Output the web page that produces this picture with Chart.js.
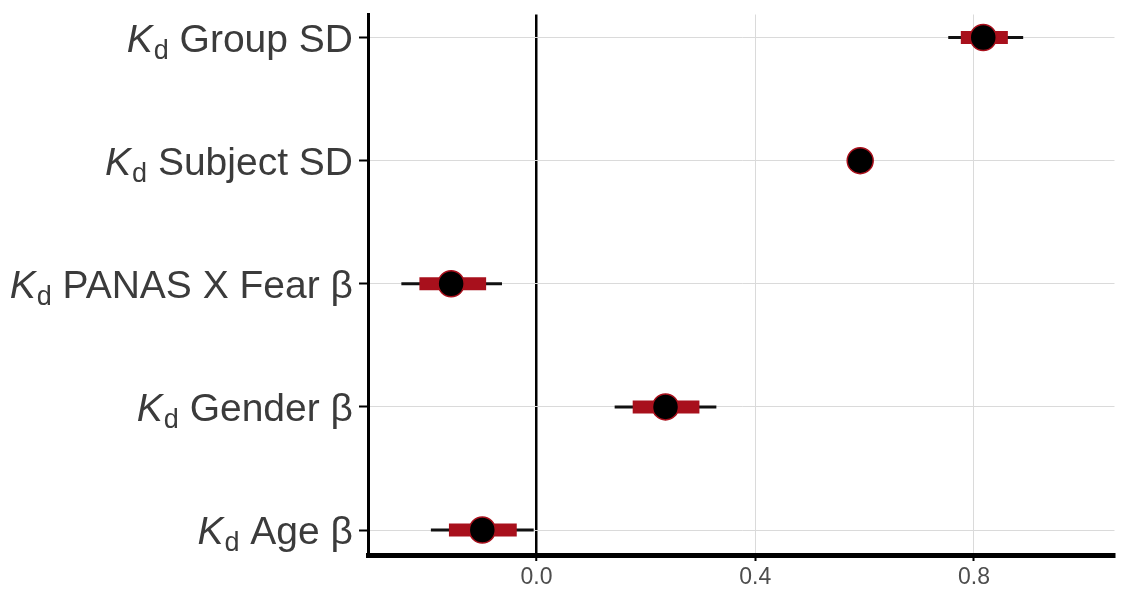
<!DOCTYPE html>
<html>
<head>
<meta charset="utf-8">
<script src="https://cdn.jsdelivr.net/npm/chart.js@4.4.1/dist/chart.umd.min.js"></script>
<style>
  body { margin: 0; background: #fff; }
  #wrap { width: 1129px; height: 594px; }
</style>
</head>
<body>
<div id="wrap"><canvas id="forestChart"></canvas></div>
<script>
// rows, top to bottom of the plot
const labelRest = [" Group SD", " Subject SD", " PANAS X Fear \u03b2", " Gender \u03b2", " Age \u03b2"];
const rowPos = [5, 4, 3, 2, 1];
const estimate = [0.817, 0.592, -0.156, 0.236, -0.099];
const innerLo = [0.776, 0.583, -0.214, 0.176, -0.160]; // thick red band
const innerHi = [0.862, 0.601, -0.092, 0.298, -0.036];
const outerLo = [0.753, 0.578, -0.247, 0.143, -0.193]; // thin black line
const outerHi = [0.890, 0.606, -0.063, 0.329, -0.005];
const xTicks = [0.0, 0.4, 0.8];

const FONT = "'Liberation Sans', Arial, sans-serif";
const RED = "#a8101c";

const ctx = document.getElementById("forestChart").getContext("2d");

// thin lines drawn first, then the red bands, then points on top
const outerSets = rowPos.map((p, i) => ({
  type: "line",
  data: [{ x: outerLo[i], y: p }, { x: outerHi[i], y: p }],
  borderColor: "#111",
  borderWidth: 3,
  borderCapStyle: "butt",
  pointRadius: 0,
  showLine: true,
  order: 3,
}));
const innerSets = rowPos.map((p, i) => ({
  type: "line",
  data: [{ x: innerLo[i], y: p }, { x: innerHi[i], y: p }],
  borderColor: RED,
  borderWidth: 13,
  borderCapStyle: "butt",
  pointRadius: 0,
  showLine: true,
  order: 2,
}));
const pointSet = {
  type: "scatter",
  data: rowPos.map((p, i) => ({ x: estimate[i], y: p })),
  pointRadius: 13,
  pointBackgroundColor: "#000",
  pointBorderColor: RED,
  pointBorderWidth: 1.5,
  order: 1,
};

// y labels: italic K, subscript d, then plain text
const rowLabels = {
  id: "rowLabels",
  afterDraw(chart) {
    const c = chart.ctx;
    const ys = chart.scales.y;
    const right = 353;
    c.save();
    c.fillStyle = "#3b3b3b";
    c.textBaseline = "alphabetic";
    c.textAlign = "left";
    rowPos.forEach((p, i) => {
      const yc = ys.getPixelForValue(p);
      const base = yc + 14;
      c.font = "39px " + FONT;
      const wRest = c.measureText(labelRest[i]).width;
      const xRest = right - wRest;
      c.fillText(labelRest[i], xRest, base);
      c.font = "27px " + FONT;
      const wd = c.measureText("d").width;
      const xd = xRest - wd;
      c.fillText("d", xd, base + 7);
      c.font = "italic 39px " + FONT;
      const wk = c.measureText("K").width;
      c.fillText("K", xd - wk - 1, base);
    });
    c.restore();
  },
};

new Chart(ctx, {
  type: "scatter",
  data: { datasets: [...outerSets, ...innerSets, pointSet] },
  plugins: [rowLabels],
  options: {
    responsive: true,
    maintainAspectRatio: false,
    animation: false,
    layout: { padding: { top: 2, right: 12, left: 0, bottom: 0 } },
    plugins: {
      legend: { display: false },
      tooltip: { enabled: false },
    },
    scales: {
      x: {
        type: "linear",
        min: -0.308,
        max: 1.057,
        afterBuildTicks: (scale) => {
          scale.ticks = xTicks.map((v) => ({ value: v }));
        },
        afterFit: (scale) => {
          scale.height = 39;
        },
        grid: {
          color: (c) => (c.tick && c.tick.value === 0 ? "#000" : "#dadada"),
          lineWidth: (c) => (c.tick && c.tick.value === 0 ? 2.5 : 1),
          tickColor: "#000",
          tickLength: 6,
          tickWidth: 2,
        },
        border: { color: "#000", width: 5 },
        ticks: {
          color: "#4d4d4d",
          font: { family: FONT, size: 23 },
          padding: 3,
          callback: (v) => v.toFixed(1),
        },
      },
      y: {
        type: "linear",
        min: 0.797,
        max: 5.187,
        afterBuildTicks: (scale) => {
          scale.ticks = rowPos.map((v) => ({ value: v }));
        },
        afterFit: (scale) => {
          scale.width = 368;
        },
        grid: {
          color: "#dadada",
          lineWidth: 1,
          tickColor: "#000",
          tickLength: 9,
          tickWidth: 2,
        },
        border: { color: "#000", width: 3 },
        ticks: { display: false },
      },
    },
  },
});
</script>
</body>
</html>
